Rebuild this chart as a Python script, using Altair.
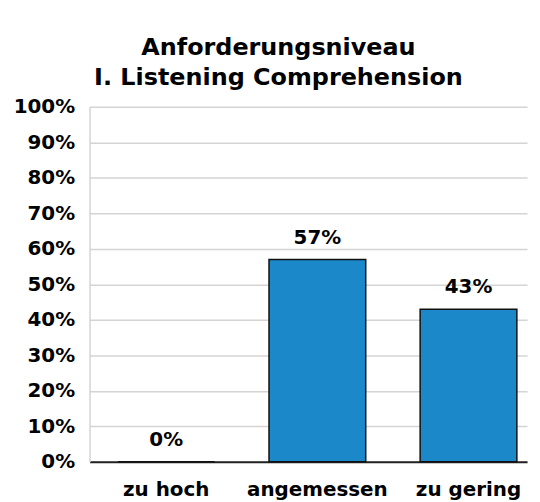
import altair as alt
import pandas as pd

categories = ["zu hoch", "angemessen", "zu gering"]
values = [0.0, 0.57, 0.43]
labels = ["0%", "57%", "43%"]
y_ticks = [0.0, 0.1, 0.2, 0.3, 0.4, 0.5, 0.6, 0.7, 0.8, 0.9, 1.0]

df = pd.DataFrame({"cat": categories, "val": values, "lab": labels})

FONT = "DejaVu Sans"

x = alt.X("cat:N", sort=categories, title=None,
          scale=alt.Scale(paddingInner=0.36, paddingOuter=0.1274, align=0.736),
          axis=alt.Axis(labelAngle=0, labelFont=FONT, labelFontSize=20, labelFontWeight="bold",
                        labelColor="#000000", ticks=False, tickSize=0, labelPadding=18,
                        domainColor="#222222", domainWidth=2))
y = alt.Y("val:Q", title=None,
          scale=alt.Scale(domain=[0, 1], nice=False),
          axis=alt.Axis(format=".0%", values=y_ticks, tickCount=11, labelFont=FONT,
                        labelFontSize=20, labelFontWeight="bold", labelColor="#000000",
                        labelOverlap=False, ticks=False, tickSize=0, labelPadding=15,
                        domain=True, domainColor="#d4d4d4", domainWidth=1.5,
                        gridColor="#d4d4d4", gridWidth=1.5))

base = alt.Chart(df).encode(x=x, y=y)
bars = base.mark_bar(color="#1a88c9", stroke="#111111", strokeWidth=1.5)
text = base.mark_text(dy=-22, font=FONT, fontSize=20, fontWeight="bold", color="#000000").encode(text="lab:N")

chart = (bars + text).properties(
    width=440, height=357,
    padding={"top": 27, "left": 5, "right": 5, "bottom": 8},
    title=alt.TitleParams(["Anforderungsniveau", "I. Listening Comprehension"], font=FONT,
                          fontSize=24, fontWeight="bold", color="#000000", anchor="middle",
                          dx=-30, offset=7, lineHeight=30),
).configure_view(stroke=None).configure_axisY(gridOpacity=1)

chart.save("out.html", embed_options={"renderer": "svg", "actions": False})
